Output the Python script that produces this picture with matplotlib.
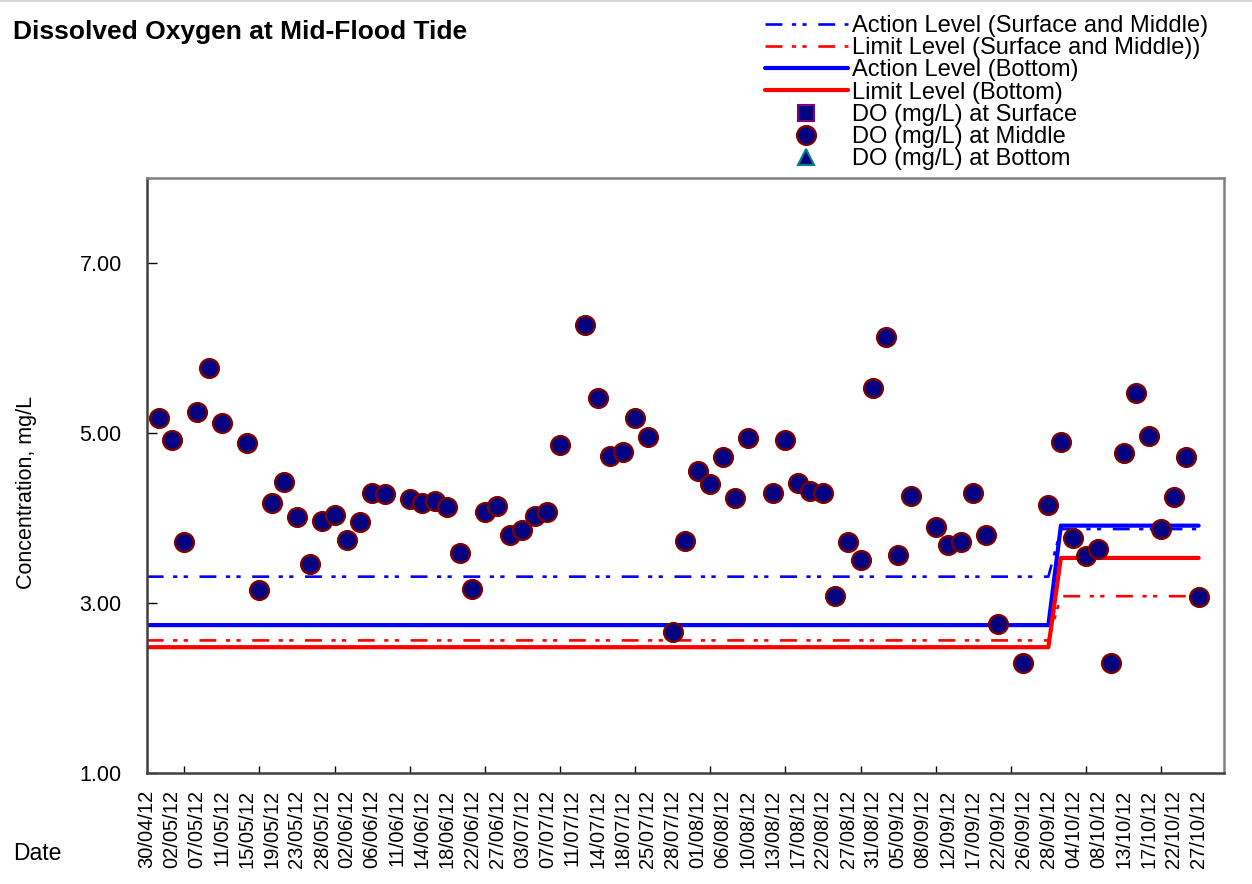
import numpy as np
import matplotlib
matplotlib.use('Agg')
import matplotlib.pyplot as plt
from matplotlib.lines import Line2D

plt.rcParams['font.family'] = ['Liberation Sans', 'DejaVu Sans']

# sampling dates shown on the axis (every second position)
date_labels = ['30/04/12', '02/05/12', '07/05/12', '11/05/12', '15/05/12', '19/05/12',
               '23/05/12', '28/05/12', '02/06/12', '06/06/12', '11/06/12', '14/06/12',
               '18/06/12', '22/06/12', '27/06/12', '03/07/12', '07/07/12', '11/07/12',
               '14/07/12', '18/07/12', '25/07/12', '28/07/12', '01/08/12', '06/08/12',
               '10/08/12', '13/08/12', '17/08/12', '22/08/12', '27/08/12', '31/08/12',
               '05/09/12', '08/09/12', '12/09/12', '17/09/12', '22/09/12', '26/09/12',
               '28/09/12', '04/10/12', '08/10/12', '13/10/12', '17/10/12', '22/10/12',
               '27/10/12']

nan = np.nan
# DO (mg/L) at middle depth, one value per sampling position
do_middle = [nan, 5.18, 4.92, 3.72, 5.25, 5.76, 5.12, nan, 4.88, 3.15,
             4.18, 4.42, 4.01, 3.46, 3.96, 4.04, 3.74, 3.95, 4.30, 4.28,
             nan, 4.22, 4.18, 4.20, 4.13, 3.59, 3.17, 4.07, 4.14, 3.80,
             3.86, 4.02, 4.07, 4.86, nan, 6.27, 5.41, 4.73, 4.78, 5.18,
             4.95, nan, 2.66, 3.73, 4.55, 4.40, 4.72, 4.24, 4.94, nan,
             4.29, 4.92, 4.41, 4.32, 4.29, 3.08, 3.72, 3.51, 5.53, 6.13,
             3.56, 4.26, nan, 3.89, 3.68, 3.72, 4.30, 3.80, 2.75, nan,
             2.30, nan, 4.15, 4.89, 3.77, 3.55, 3.64, 2.30, 4.76, 5.47,
             4.96, 3.87, 4.25, 4.72, 3.07]
# no separate surface / bottom readings for this tide
do_surface = [nan] * len(do_middle)
do_bottom = [nan] * len(do_middle)

# action / limit levels (first period 73 positions, second period 12)
action_sm = [3.31] * 73 + [3.87] * 12
limit_sm = [2.56] * 73 + [3.08] * 12
action_bot = [2.74] * 73 + [3.91] * 12
limit_bot = [2.48] * 73 + [3.53] * 12

x = np.arange(len(do_middle))

fig = plt.figure(figsize=(12.52, 8.84), dpi=100)
ax = fig.add_axes([146.7 / 1252, 111 / 884, 1077 / 1252, 595 / 884])

dashdot = (0, (6.4, 3.6, 1.6, 2.4, 1.6, 4.4))
ax.plot(x, action_sm, color='#0000ff', lw=1.9, linestyle=dashdot,
        label='Action Level (Surface and Middle)')
ax.plot(x, limit_sm, color='#ff0000', lw=1.9, linestyle=dashdot,
        label='Limit Level (Surface and Middle))')
ax.plot(x, action_bot, color='#0000ff', lw=3.0, solid_capstyle='round',
        label='Action Level (Bottom)')
ax.plot(x, limit_bot, color='#ff0000', lw=3.0, solid_capstyle='round',
        label='Limit Level (Bottom)')
ax.plot(x, do_surface, linestyle='none', marker='s', ms=11, mfc='#000080',
        mec='#800080', mew=1.5, label='DO (mg/L) at Surface')
ax.plot(x, do_middle, linestyle='none', marker='o', ms=13.5, mfc='#000080',
        mec='#800000', mew=1.7, label='DO (mg/L) at Middle')
ax.plot(x, do_bottom, linestyle='none', marker='^', ms=11, mfc='#000080',
        mec='#008080', mew=1.5, label='DO (mg/L) at Bottom')

ax.set_xlim(0, 86)
ax.set_ylim(1, 8)
ax.set_yticks([1, 3, 5, 7])
ax.set_yticklabels(['%.2f' % v for v in [1, 3, 5, 7]], fontsize=15.5)
ax.tick_params(axis='y', direction='in', length=7, width=1, pad=18)

ax.set_xticks(np.arange(0, 85, 2))
ax.set_xticklabels(date_labels, rotation=90, fontsize=14.5)
ax.tick_params(axis='x', which='major', length=0, pad=12)
ax.set_xticks(np.arange(3, 85, 3), minor=True)
ax.tick_params(axis='x', which='minor', direction='in', length=5, width=1)

for side in ['top', 'right']:
    ax.spines[side].set_color('#808080')
    ax.spines[side].set_linewidth(1.8)
for side in ['left', 'bottom']:
    ax.spines[side].set_color('#404040')
    ax.spines[side].set_linewidth(1.8)

# thin frame line along the top edge of the chart area
fig.add_artist(Line2D([0, 1], [0.999, 0.999], transform=fig.transFigure,
                      color='#d0d0d0', lw=1.2))

fig.text(13 / 1252, 1 - 32 / 884, 'Dissolved Oxygen at Mid-Flood Tide',
         fontsize=19, fontweight='bold', ha='left', va='center')
fig.text(27 / 1252, 1 - 492 / 884, 'Concentration, mg/L', fontsize=15.5,
         rotation=90, ha='center', va='center')
fig.text(13 / 1252, 1 - 853 / 884, 'Date', fontsize=16.5, ha='left', va='center')

fig.legend(loc='upper left', bbox_to_anchor=(765 / 1252, 1 - 15 / 884),
           frameon=False, fontsize=17, handlelength=3.5, handletextpad=0.2,
           labelspacing=0.01, borderpad=0, borderaxespad=0, markerscale=1.0)

fig.savefig('out.png', dpi=100)
